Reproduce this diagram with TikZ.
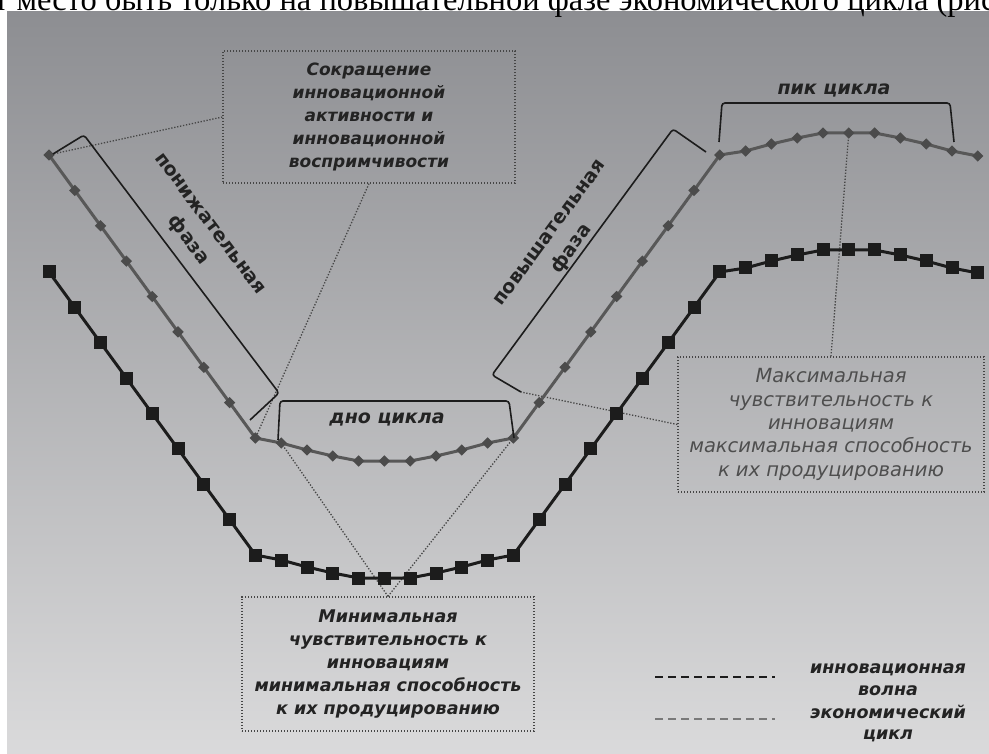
\documentclass[tikz,border=0pt]{standalone}
\usepackage{fontspec}
\setmainfont{DejaVu Sans}
\newfontfamily\headfont{Liberation Serif}
\usetikzlibrary{shapes.geometric}
\definecolor{bgtop}{RGB}{141,142,146}
\definecolor{bgbottom}{RGB}{218,218,219}
\definecolor{wavegray}{RGB}{88,88,88}
\definecolor{econblack}{RGB}{28,28,28}
\definecolor{textdark}{RGB}{35,35,35}
\definecolor{textgray}{RGB}{78,78,78}
\definecolor{dotgray}{RGB}{70,70,70}

\begin{document}
\begin{tikzpicture}[x=1pt, y=-1pt,
    waveline/.style={draw=wavegray, line width=3pt, line join=round},
    econline/.style={draw=econblack, line width=3pt, line join=round},
    wavemark/.style={diamond, fill=wavegray!85!black, inner sep=0pt, minimum size=11.5pt},
    econmark/.style={rectangle, fill=econblack, inner sep=0pt, minimum size=13pt},
    bracket/.style={draw=econblack, line width=1.6pt, rounded corners=3pt},
    infobox/.style={draw=dotgray, line width=1.3pt, dash pattern=on 1.3pt off 1.7pt, align=center, inner sep=0pt},
    link/.style={draw=dotgray, line width=1.3pt, dash pattern=on 1.3pt off 1.7pt},
    phase/.style={font=\bfseries\fontsize{19}{27}\selectfont, text=textdark, align=center},
    cyclelbl/.style={font=\bfseries\itshape\fontsize{19}{20}\selectfont, text=textdark},
    legend/.style={font=\bfseries\itshape\fontsize{17.5}{21.5}\selectfont, text=textdark, align=center},
    legline/.style={line width=2.5pt, dash pattern=on 8pt off 5pt}
]
\useasboundingbox (0,0) rectangle (989,754);
\clip (0,0) rectangle (989,754);

% page and grey slide
\fill[white] (0,0) rectangle (989,754);
\shade[top color=bgtop, bottom color=bgbottom] (7,12) rectangle (989,754);
\node[anchor=base west, inner sep=0pt, font=\headfont\fontsize{32.5}{33}\selectfont] (header) at (-6,10.5) {т место быть только на повышательной фазе экономического цикла (рис};

% curve points
\foreach \yy [count=\i from 0] in {155,190.4,225.8,261.1,296.5,331.9,367.3,402.6,438,443,450,456,461,461,461,456,450,443,438,402.6,367.3,331.9,296.5,261.1,225.8,190.4,155,151,144,138,133,133,133,138,144,151,156}{
    \coordinate (w\i) at ({49+25.8*\i},\yy);
    \coordinate (c\i) at ({49+25.8*\i},{\yy+117});
}

% bracket corners
\coordinate (downA) at (53,154);
\coordinate (upA) at (521,392);

% Dotted boxes
\node[infobox, minimum width=292pt, minimum height=132pt, text=textdark, font=\bfseries\itshape\fontsize{17}{23}\selectfont] (shrink) at (369,117) {Сокращение\\инновационной\\активности и\\инновационной\\воспримчивости};
\node[infobox, minimum width=292pt, minimum height=134pt, text=textdark, font=\bfseries\itshape\fontsize{17.5}{23}\selectfont] (minsens) at (388,664) {Минимальная\\чувствительность к\\инновациям\\минимальная способность\\к их продуцированию};
\node[infobox, minimum width=306pt, minimum height=135pt, text=textgray, font=\itshape\fontsize{19.5}{23.3}\selectfont] (maxsens) at (831,424.5) {Максимальная\\чувствительность к\\инновациям\\максимальная способность\\к их продуцированию};

% Dotted links
\draw[link] (shrink.west) -- (downA);
\draw[link] (shrink.south) -- (w8);
\draw[link] (minsens.north) -- (w9);
\draw[link] (minsens.north) -- (w18);
\draw[link] (maxsens.north) -- (w31);
\draw[link] (maxsens.west) -- (upA);

% Economic cycle
\draw[econline] (c0) \foreach \i in {1,...,36}{-- (c\i)};
\foreach \i in {0,...,36} \node[econmark] at (c\i) {};

% Innovation wave
\draw[waveline] (w0) \foreach \i in {1,...,36}{-- (w\i)};
\foreach \i in {0,...,36} \node[wavemark] at (w\i) {};

% Brackets
\draw[bracket] (downA) -- (84,135) -- (279,393) -- (250,420);
\draw[bracket] (upA) -- (492,375) -- (673,129) -- (706,152);
\draw[bracket] (278,440) -- (280,401) -- (509,401) -- (514,438);
\draw[bracket] (719,142) -- (722,103) -- (950,103) -- (954,142);

% Phase labels
\node[phase, rotate=-53] (downlbl) at (198,233) {понижательная\\фаза};
\node[phase, rotate=53.6] (uplbl) at (562,242) {повышательная\\фаза};
\node[cyclelbl] (bottomlbl) at (387,419) {дно цикла};
\node[cyclelbl] (peaklbl) at (834,90) {пик цикла};

% Legend
\draw[legline, econblack] (655,677) -- (775,677);
\draw[legline, wavegray!80] (655,719) -- (775,719);
\node[legend] (legwave) at (888,679.5) {инновационная\\волна};
\node[legend] (legecon) at (888,723.5) {экономический\\цикл};

\end{tikzpicture}
\end{document}
